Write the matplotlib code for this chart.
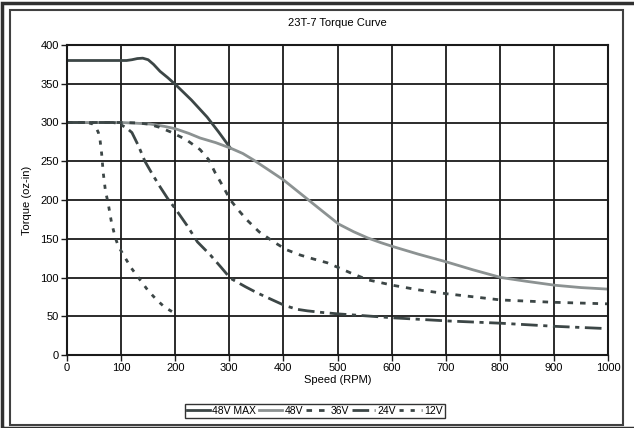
import matplotlib.pyplot as plt
from matplotlib.patches import Rectangle

plt.rcParams['font.family'] = ['Liberation Sans', 'DejaVu Sans']

# speed (RPM) / torque (oz-in)
max48_x = [0, 50, 100, 110, 120, 130, 140, 150, 160, 172, 186, 202, 230, 259, 280, 302]
max48_y = [380, 380, 380, 380, 381, 382.5, 383, 381, 375, 366, 358, 348, 329, 307, 288, 267]

v48_x = [0, 50, 100, 130, 154, 180, 200, 225, 246, 275, 302, 325, 344, 370, 400, 425, 450, 475, 502, 530, 556, 580, 602, 650, 702, 750, 802, 850, 902, 950, 1000]
v48_y = [300, 300, 300, 299, 298, 295, 292, 286, 280, 274, 267, 260, 252, 240, 226, 212, 198, 184, 169, 159, 151, 145, 140, 130, 120, 110, 100, 95, 90, 87, 85]

v36_x = [0, 50, 100, 130, 150, 170, 191, 220, 246, 262, 274, 288, 302, 318, 333, 355, 382, 405, 431, 455, 481, 524, 556, 602, 650, 702, 802, 900, 1000]
v36_y = [300, 300, 300, 299.5, 298, 294, 288, 278, 265, 252, 235, 218, 200, 186, 174, 159, 146, 136, 129, 124, 119, 106, 97, 90, 84, 79, 71, 68, 66]

v24_x = [0, 50, 85, 93, 100, 110, 120, 132, 144, 158, 172, 186, 202, 222, 241, 265, 285, 302, 330, 352, 380, 402, 425, 444, 470, 502, 543, 602, 702, 802, 902, 1000]
v24_y = [300, 300, 300, 299, 297, 293, 287, 270, 250, 233, 217, 202, 187, 167, 146, 129, 113, 99, 88, 80, 71, 64, 59, 57, 55, 53, 51, 48, 44, 41, 37, 34]

v12_x = [0, 30, 40, 48, 54, 58, 61, 64, 67, 71, 76, 82, 89, 95, 102, 118, 135, 150, 166, 180, 194, 198]
v12_y = [300, 300, 299.5, 298, 293, 287, 278, 260, 235, 212, 196, 172, 152, 140, 132, 113, 97, 83, 71, 62, 56, 52]

dark = '#3c4646'
gray = '#8c9292'

fig = plt.figure(figsize=(6.34, 4.28), dpi=100)
fig.patches.append(Rectangle((2 / 634, 0), 1, 1 - 3 / 428, transform=fig.transFigure,
                             fill=False, edgecolor='#303030', lw=2.5))
fig.patches.append(Rectangle((10 / 634, 3 / 428), 613 / 634, 415 / 428, transform=fig.transFigure,
                             fill=False, edgecolor='#404040', lw=1.5))

ax = fig.add_axes([67 / 634, 73 / 428, 541 / 634, 310 / 428])

ax.plot(max48_x, max48_y, color=dark, lw=2, label='48V MAX')
ax.plot(v48_x, v48_y, color=gray, lw=2, label='48V')
ax.plot(v36_x, v36_y, color=dark, lw=2, ls=(0, (2, 2.5)), label='36V')
ax.plot(v24_x, v24_y, color=dark, lw=2, ls=(0, (6, 2, 1.5, 2)), label='24V')
ax.plot(v12_x, v12_y, color=dark, lw=2, ls=(0, (1.5, 2.5)), label='12V')

ax.set_xlim(0, 1000)
ax.set_ylim(0, 400)
ax.set_xticks(range(0, 1001, 100))
ax.set_yticks(range(0, 401, 50))
ax.grid(True, color='#1a1a1a', lw=1.3)
ax.set_axisbelow(True)
for s in ax.spines.values():
    s.set_color('#1a1a1a')
    s.set_linewidth(1.5)
ax.tick_params(labelsize=8, length=4, width=1, color='#1a1a1a', pad=2)

ax.set_title('23T-7 Torque Curve', fontsize=8, pad=14)
ax.set_xlabel('Speed (RPM)', fontsize=8, labelpad=1)
ax.set_ylabel('Torque (oz-in)', fontsize=8, labelpad=6)

leg = fig.legend(loc='center', bbox_to_anchor=(315 / 634, 1 - 411 / 428), ncol=5,
                 fontsize=7.5, frameon=True, fancybox=False, edgecolor='black',
                 handlelength=2.2, handletextpad=0.2, columnspacing=0.3,
                 borderpad=0.2, borderaxespad=0)
leg.get_frame().set_linewidth(1)

fig.savefig('out.png', dpi=100)
